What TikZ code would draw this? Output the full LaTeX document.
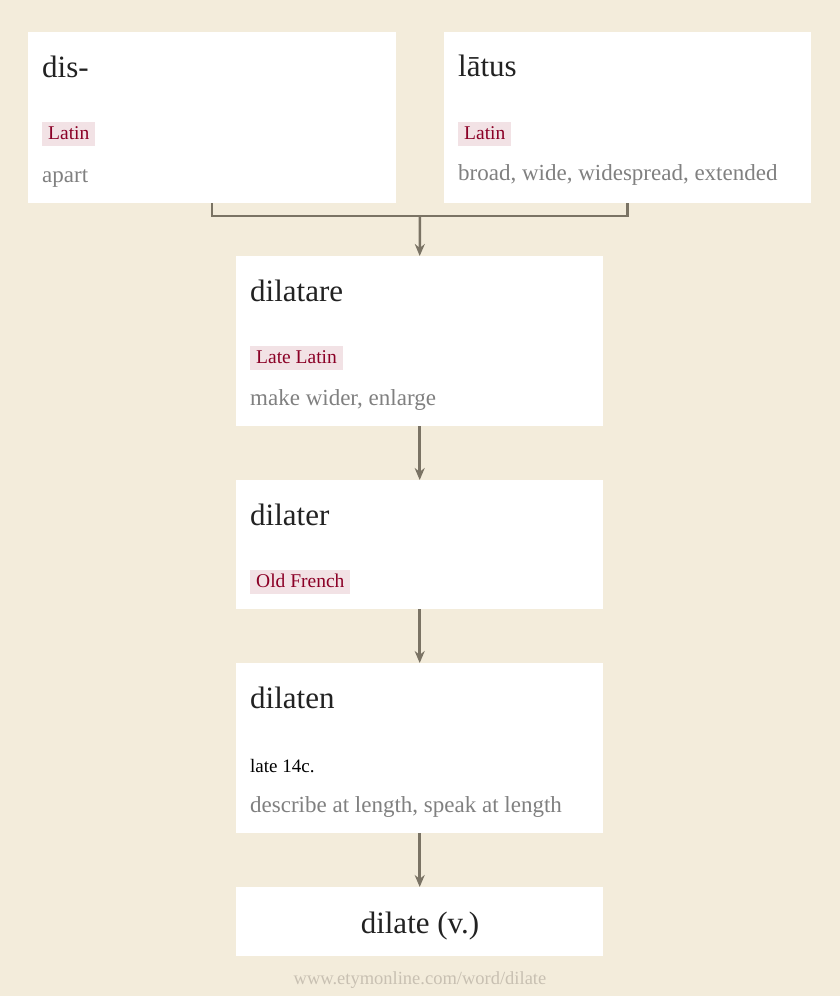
\documentclass[tikz,border=0pt]{standalone}
\usepackage{fontspec}
\setmainfont{Liberation Serif}
\usetikzlibrary{arrows.meta}
\definecolor{paper}{RGB}{243,236,219}
\definecolor{wire}{RGB}{122,115,100}
\definecolor{tagbg}{RGB}{242,226,229}
\definecolor{tagfg}{RGB}{139,0,38}
\definecolor{glossgray}{RGB}{128,128,128}
\definecolor{ink}{RGB}{34,34,34}
\definecolor{urlgray}{RGB}{200,192,178}
\tikzset{>={Stealth[length=12pt,width=10pt]}}
\tikzset{
  box/.style={fill=white, anchor=north west, minimum width=367pt, inner sep=0pt},
  head/.style={anchor=base west, inner sep=0pt, text=ink, font=\fontsize{31}{36}\selectfont},
  lang/.style={anchor=base west, fill=tagbg, text=tagfg, inner xsep=6pt, inner ysep=4pt,
    text height=13pt, text depth=3pt, font=\fontsize{19.5}{22}\selectfont},
  gloss/.style={anchor=base west, inner sep=0pt, text=glossgray, font=\fontsize{23}{26}\selectfont},
  when/.style={anchor=base west, inner sep=0pt, text=black, font=\fontsize{19}{22}\selectfont},
  link/.style={wire, line width=2.5pt}
}

\begin{document}
\begin{tikzpicture}[x=1pt,y=-1pt]
    \fill[paper] (0,0) rectangle (840,996);

    \node[box, minimum width=368pt, minimum height=171pt] (dis) at (28,32) {};
    \node[box, minimum height=171pt] (latus) at (444,32) {};
    \node[box, minimum height=170pt] (dilatare) at (236,256) {};
    \node[box, minimum height=129pt] (dilater) at (236,480) {};
    \node[box, minimum height=170pt] (dilaten) at (236,663) {};
    \node[box, minimum height=69pt] (dilate) at (236,887) {};

    \node[head] (disw) at (42,77) {dis-};
    \node[lang] (disl) at (42,139) {Latin};
    \node[gloss] (disg) at (42,182) {apart};

    \node[head] (latusw) at (458,76) {lātus};
    \node[lang] (latusl) at (458,139) {Latin};
    \node[gloss] (latusg) at (458,180) {broad, wide, widespread, extended};

    \node[head] (dilatarew) at (250,301) {dilatare};
    \node[lang] (dilatarel) at (250,363) {Late Latin};
    \node[gloss] (dilatareg) at (250,405) {make wider, enlarge};

    \node[head] (dilaterw) at (250,525) {dilater};
    \node[lang] (dilaterl) at (250,587) {Old French};

    \node[head] (dilatenw) at (250,708) {dilaten};
    \node[when] (dilatend) at (250,772) {late 14c.};
    \node[gloss] (dilateng) at (250,812) {describe at length, speak at length};

    \node[head, anchor=base] (dilatew) at (420,933) {dilate (v.)};
    \node[anchor=base, inner sep=0pt, text=urlgray, font=\fontsize{18.5}{21}\selectfont] (url) at (420,984) {www.etymonline.com/word/dilate};

    \coordinate (join) at (420,216);
    \draw[link] (dis.south) |- (join) -| (latus.south);
    \draw[link,->] (join) -- (dilatare.north);
    \draw[link,->] (dilatare) -- (dilater);
    \draw[link,->] (dilater) -- (dilaten);
    \draw[link,->] (dilaten) -- (dilate);
\end{tikzpicture}
\end{document}
